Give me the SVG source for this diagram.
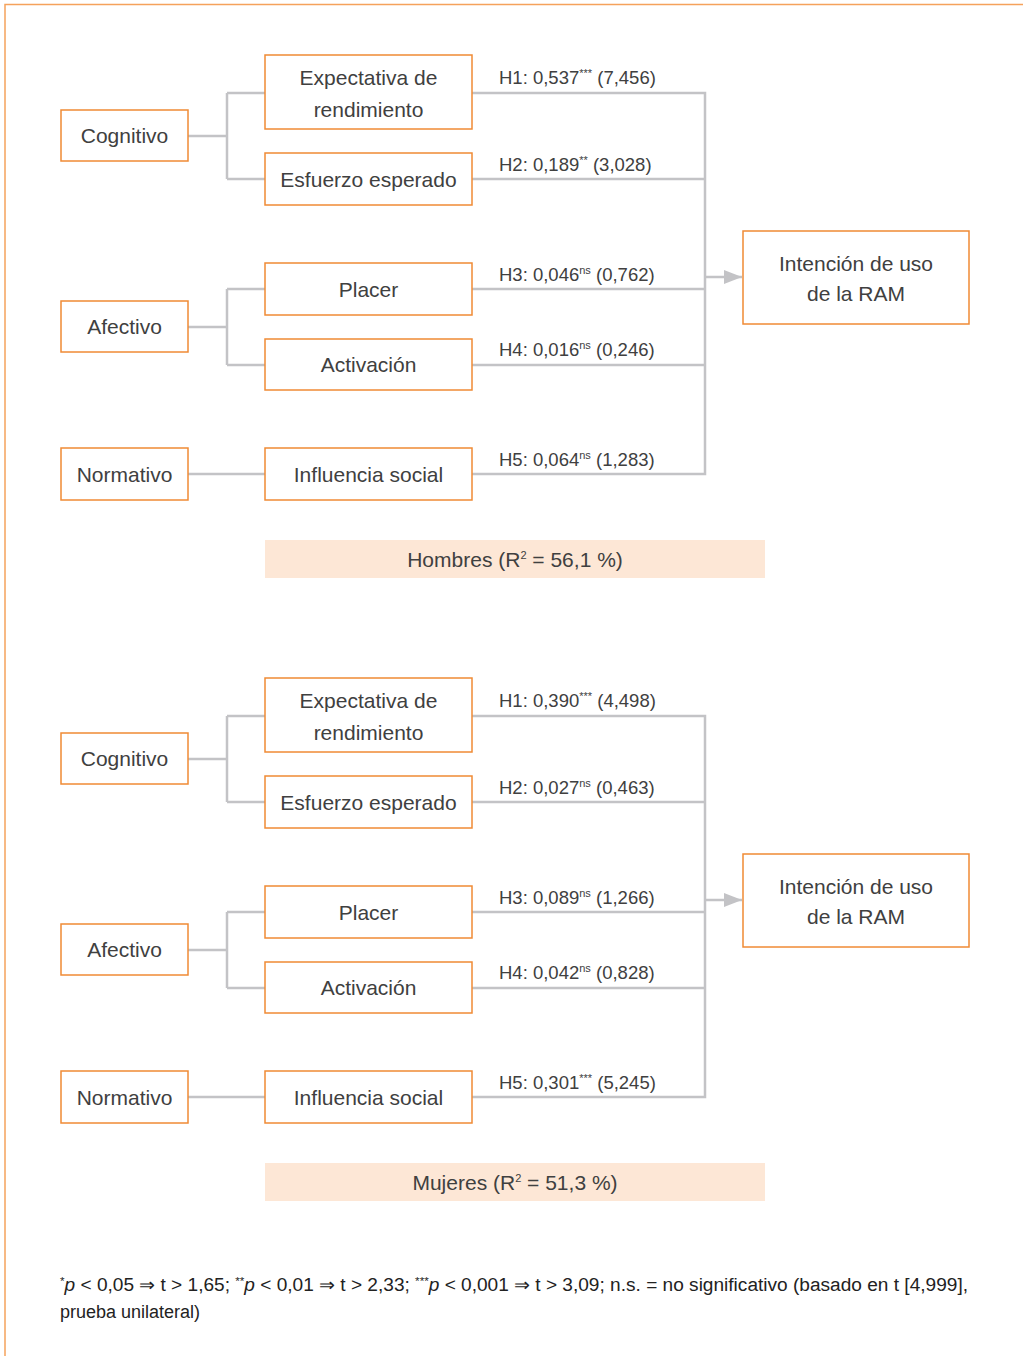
<svg xmlns="http://www.w3.org/2000/svg" width="1023" height="1356" viewBox="0 0 1023 1356">
  <style>
    .box { fill: #ffffff; stroke: #f08a35; stroke-width: 1.5; }
    .conn { fill: none; stroke: #c3c3c6; stroke-width: 2.5; }
    .t { font-family: "Liberation Sans", Arial, sans-serif; font-size: 21px; fill: #404040; text-anchor: middle; }
    .lbl { font-family: "Liberation Sans", Arial, sans-serif; font-size: 18.5px; fill: #404040; }
    .sup { font-size: 11px; }
    .band { fill: #fde7d6; }
    .note { font-family: "Liberation Sans", Arial, sans-serif; font-size: 18px; fill: #222222; }
  </style>
  <defs>
    <marker id="arrow" markerUnits="userSpaceOnUse" markerWidth="20" markerHeight="16" refX="18" refY="7" orient="auto">
      <path d="M0,0 L18,7 L0,14 z" fill="#c3c3c6"/>
    </marker>
  </defs>
  <rect width="1023" height="1356" fill="#ffffff"/>
  <path d="M5,1356 V4.5 H1023" fill="none" stroke="#f5a25c" stroke-width="1.5"/>

  <!-- Panel Hombres -->
  <g id="panel-hombres">
    <g id="connectors-hombres">
      <path class="conn" d="M188,136 H227 M227,93 V179 M227,93 H265 M227,179 H265"/>
      <path class="conn" d="M188,327 H227 M227,289 V365 M227,289 H265 M227,365 H265"/>
      <path class="conn" d="M188,474 H265"/>
      <path class="conn" d="M472,93 H705 M472,179 H705 M472,289 H705 M472,365 H705 M472,474 H705 M705,91.75 V475.25"/>
      <line class="conn" x1="705" y1="277" x2="742" y2="277" marker-end="url(#arrow)"/>
    </g>
    <g id="h-cognitivo"><rect class="box" x="61" y="110" width="127" height="51"/><text class="t" x="124.5" y="143">Cognitivo</text></g>
    <g id="h-expectativa"><rect class="box" x="265" y="55" width="207" height="74"/><text class="t" x="368.5" y="85">Expectativa de</text><text class="t" x="368.5" y="117">rendimiento</text></g>
    <g id="h-esfuerzo"><rect class="box" x="265" y="153" width="207" height="52"/><text class="t" x="368.5" y="187">Esfuerzo esperado</text></g>
    <g id="h-afectivo"><rect class="box" x="61" y="301" width="127" height="51"/><text class="t" x="124.5" y="334">Afectivo</text></g>
    <g id="h-placer"><rect class="box" x="265" y="263" width="207" height="52"/><text class="t" x="368.5" y="297">Placer</text></g>
    <g id="h-activacion"><rect class="box" x="265" y="339" width="207" height="51"/><text class="t" x="368.5" y="372">Activación</text></g>
    <g id="h-normativo"><rect class="box" x="61" y="448" width="127" height="52"/><text class="t" x="124.5" y="482">Normativo</text></g>
    <g id="h-influencia"><rect class="box" x="265" y="448" width="207" height="52"/><text class="t" x="368.5" y="482">Influencia social</text></g>
    <g id="h-intencion"><rect class="box" x="743" y="231" width="226" height="93"/><text class="t" x="856" y="271">Intención de uso</text><text class="t" x="856" y="301">de la RAM</text></g>
    <g id="h-labels">
      <text class="lbl" x="499" y="84">H1: 0,537<tspan class="sup" dy="-7">***</tspan><tspan dy="7"> (7,456)</tspan></text>
      <text class="lbl" x="499" y="171">H2: 0,189<tspan class="sup" dy="-7">**</tspan><tspan dy="7"> (3,028)</tspan></text>
      <text class="lbl" x="499" y="281">H3: 0,046<tspan class="sup" dy="-7">ns</tspan><tspan dy="7"> (0,762)</tspan></text>
      <text class="lbl" x="499" y="356">H4: 0,016<tspan class="sup" dy="-7">ns</tspan><tspan dy="7"> (0,246)</tspan></text>
      <text class="lbl" x="499" y="466">H5: 0,064<tspan class="sup" dy="-7">ns</tspan><tspan dy="7"> (1,283)</tspan></text>
    </g>
    <g id="h-band"><rect class="band" x="265" y="540" width="500" height="38"/><text class="t" x="515" y="567">Hombres (R<tspan class="sup" dy="-8">2</tspan><tspan dy="8"> = 56,1 %)</tspan></text></g>
  </g>

  <!-- Panel Mujeres -->
  <g id="panel-mujeres" transform="translate(0,623)">
    <g id="connectors-mujeres">
      <path class="conn" d="M188,136 H227 M227,93 V179 M227,93 H265 M227,179 H265"/>
      <path class="conn" d="M188,327 H227 M227,289 V365 M227,289 H265 M227,365 H265"/>
      <path class="conn" d="M188,474 H265"/>
      <path class="conn" d="M472,93 H705 M472,179 H705 M472,289 H705 M472,365 H705 M472,474 H705 M705,91.75 V475.25"/>
      <line class="conn" x1="705" y1="277" x2="742" y2="277" marker-end="url(#arrow)"/>
    </g>
    <g id="m-cognitivo"><rect class="box" x="61" y="110" width="127" height="51"/><text class="t" x="124.5" y="143">Cognitivo</text></g>
    <g id="m-expectativa"><rect class="box" x="265" y="55" width="207" height="74"/><text class="t" x="368.5" y="85">Expectativa de</text><text class="t" x="368.5" y="117">rendimiento</text></g>
    <g id="m-esfuerzo"><rect class="box" x="265" y="153" width="207" height="52"/><text class="t" x="368.5" y="187">Esfuerzo esperado</text></g>
    <g id="m-afectivo"><rect class="box" x="61" y="301" width="127" height="51"/><text class="t" x="124.5" y="334">Afectivo</text></g>
    <g id="m-placer"><rect class="box" x="265" y="263" width="207" height="52"/><text class="t" x="368.5" y="297">Placer</text></g>
    <g id="m-activacion"><rect class="box" x="265" y="339" width="207" height="51"/><text class="t" x="368.5" y="372">Activación</text></g>
    <g id="m-normativo"><rect class="box" x="61" y="448" width="127" height="52"/><text class="t" x="124.5" y="482">Normativo</text></g>
    <g id="m-influencia"><rect class="box" x="265" y="448" width="207" height="52"/><text class="t" x="368.5" y="482">Influencia social</text></g>
    <g id="m-intencion"><rect class="box" x="743" y="231" width="226" height="93"/><text class="t" x="856" y="271">Intención de uso</text><text class="t" x="856" y="301">de la RAM</text></g>
    <g id="m-labels">
      <text class="lbl" x="499" y="84">H1: 0,390<tspan class="sup" dy="-7">***</tspan><tspan dy="7"> (4,498)</tspan></text>
      <text class="lbl" x="499" y="171">H2: 0,027<tspan class="sup" dy="-7">ns</tspan><tspan dy="7"> (0,463)</tspan></text>
      <text class="lbl" x="499" y="281">H3: 0,089<tspan class="sup" dy="-7">ns</tspan><tspan dy="7"> (1,266)</tspan></text>
      <text class="lbl" x="499" y="356">H4: 0,042<tspan class="sup" dy="-7">ns</tspan><tspan dy="7"> (0,828)</tspan></text>
      <text class="lbl" x="499" y="466">H5: 0,301<tspan class="sup" dy="-7">***</tspan><tspan dy="7"> (5,245)</tspan></text>
    </g>
    <g id="m-band"><rect class="band" x="265" y="540" width="500" height="38"/><text class="t" x="515" y="567">Mujeres (R<tspan class="sup" dy="-8">2</tspan><tspan dy="8"> = 51,3 %)</tspan></text></g>
  </g>

  <g id="footnote">
    <text class="note" x="60" y="1291" textLength="908" lengthAdjust="spacingAndGlyphs"><tspan class="sup" dy="-6">*</tspan><tspan dy="6" font-style="italic">p</tspan> &lt; 0,05 ⇒ t &gt; 1,65; <tspan class="sup" dy="-6">**</tspan><tspan dy="6" font-style="italic">p</tspan> &lt; 0,01 ⇒ t &gt; 2,33; <tspan class="sup" dy="-6">***</tspan><tspan dy="6" font-style="italic">p</tspan> &lt; 0,001 ⇒ t &gt; 3,09; n.s. = no significativo (basado en t [4,999],</text>
    <text class="note" x="60" y="1318">prueba unilateral)</text>
  </g>
</svg>
